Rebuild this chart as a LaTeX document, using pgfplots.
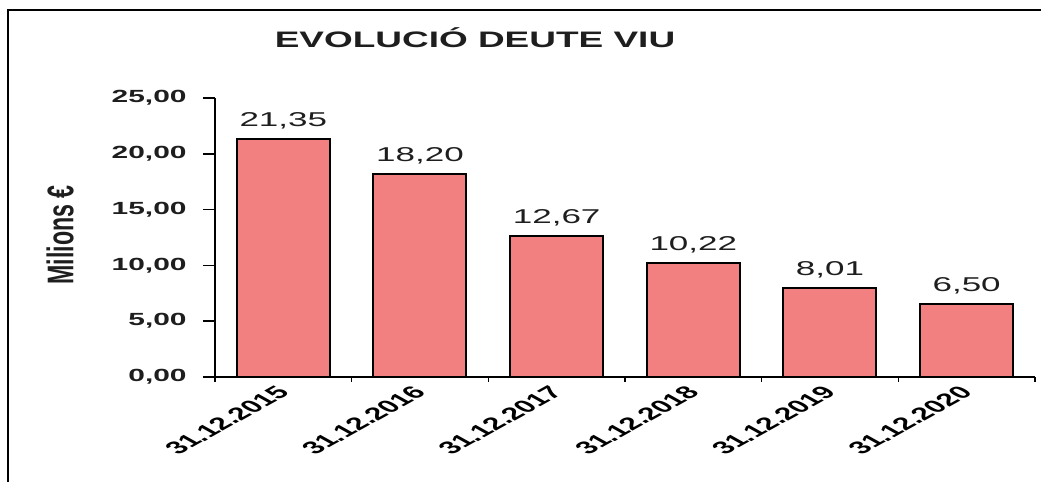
\documentclass[border=0pt]{standalone}
\usepackage{pgfplots}
\pgfplotsset{compat=1.18}
\usepackage{fontspec}
\setmainfont{Liberation Sans}
\newfontfamily\tickfont[FakeStretch=1.7]{Liberation Sans}
\newfontfamily\valfont[FakeStretch=1.75]{Liberation Sans}
\newfontfamily\titlefont[FakeStretch=1.65]{Liberation Sans}
\definecolor{barfill}{RGB}{242,128,128}
\definecolor{txt}{RGB}{30,30,30}
\begin{document}
\begin{tikzpicture}
\path[use as bounding box] (0pt,0pt) rectangle (520.5pt,241pt);
\draw[line width=0.75pt] (4pt,0pt) -- (4pt,236pt) -- (520.5pt,236pt);
\node[font=\titlefont\bfseries\fontsize{11.2}{13}\selectfont, text=txt] at (237.5pt,222pt) {EVOLUCIÓ DEUTE VIU};
\node[rotate=90, font=\bfseries\fontsize{11.6}{13}\selectfont, text=txt] at (30pt,123.5pt) {\scalebox{1}[1.6]{Milions €}};
\begin{axis}[
  at={(107.5pt,52.5pt)}, anchor=south west,
  scale only axis, width=410pt, height=139.5pt,
  xmin=-0.5, xmax=5.5, ymin=0, ymax=25,
  axis x line*=bottom, axis y line*=left,
  axis line style={line width=0.75pt, black},
  xtick={0,...,5},
  xticklabels={31.12.2015,31.12.2016,31.12.2017,31.12.2018,31.12.2019,31.12.2020},
  minor xtick={-0.5,0.5,...,5.5},
  ytick={0,5,...,25},
  tick align=outside,
  major tick length=6pt, minor tick length=2.5pt,
  major x tick style={draw=none},
  tick style={black, line width=0.75pt},
  /pgf/number format/.cd, fixed, fixed zerofill, precision=2, use comma, assume math mode=true,
  /pgfplots/.cd,
  yticklabel style={font=\tickfont\bfseries\fontsize{8.8}{10}\selectfont, text=txt, inner sep=0pt, anchor=east, xshift=-8pt},
  xticklabel style={font=\bfseries\fontsize{8.8}{10}\selectfont, text=black, inner sep=0pt, anchor=east, xscale=1.8, rotate=45},
  ybar, bar width=46.5pt,
  clip=false,
  nodes near coords,
  every node near coord/.append style={font=\valfont\fontsize{10}{12}\selectfont, text=txt, anchor=south, inner sep=0pt, yshift=4.5pt},
]
\addplot[fill=barfill, draw=black, line width=1pt] coordinates {(0,21.35) (1,18.20) (2,12.67) (3,10.22) (4,8.01) (5,6.50)};
\end{axis}
\end{tikzpicture}
\end{document}
